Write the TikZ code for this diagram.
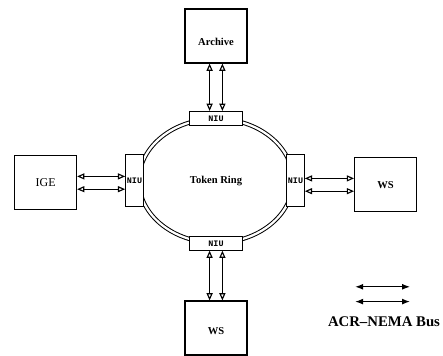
\documentclass[tikz,border=0pt]{standalone}
\usepackage{fontspec}
\setmainfont{Liberation Serif}
\newfontfamily\niufont{Liberation Mono}
\usetikzlibrary{arrows.meta,positioning,shapes.geometric}
\tikzset{
  stationnode/.style={rectangle,draw,thick,minimum width=1.55cm,minimum height=1.35cm,inner sep=1pt},
  niuh/.style={rectangle,draw,thick,fill=white,minimum width=1.32cm,minimum height=0.34cm,inner sep=0pt,
    font=\niufont\bfseries\fontsize{6}{7}\selectfont},
  niuv/.style={niuh,minimum width=0.44cm,minimum height=1.3cm},
  ringnode/.style={ellipse,draw,double,double distance=1.6pt,line width=0.7pt,
    minimum width=3.85cm,minimum height=3.1cm,inner sep=0pt},
  busarrow/.style={{Triangle[open,length=1.8mm,width=1.5mm,line width=0.8pt]}-{Triangle[open,length=1.8mm,width=1.5mm,line width=0.8pt]},thick},
  legarrow/.style={{Latex[length=2mm,width=1.5mm]}-{Latex[length=2mm,width=1.5mm]},thick}
}

\begin{document}
\begin{tikzpicture}[font=\bfseries\fontsize{7.5}{8}\selectfont]
  \useasboundingbox (0,0) rectangle (11.075,8.9);
  \node[ringnode] (ring) at (5.4,4.38) {Token Ring};
  \node[niuh] (niut) at (ring.north) {NIU};
  \node[niuh] (niub) at (ring.south) {NIU};
  \node[niuv] (niul) at ([xshift=-0.1cm]ring.west) {NIU};
  \node[niuv] (niur) at ([xshift=0.05cm]ring.east) {NIU};
  \node[stationnode,text height=0.5cm,text depth=0pt] (archive) at (5.4,8.0) {Archive};
  \node[stationnode] (igebox) at (1.14,4.33) {\mdseries\fontsize{8.5}{9}\selectfont IGE};
  \node[stationnode] (wsright) at (9.64,4.28) {WS};
  \node[stationnode,text height=0.35cm,text depth=0pt] (wsbottom) at (5.4,0.7) {WS};
  \foreach \s in {-0.16,0.16}{
    \draw[busarrow] ([xshift=\s cm]archive.south) -- ([xshift=\s cm]niut.north);
    \draw[busarrow] ([xshift=\s cm]wsbottom.north) -- ([xshift=\s cm]niub.south);
    \draw[busarrow] ([yshift=\s cm]igebox.east) -- ([yshift=\s cm]igebox.east -| niul.west);
    \draw[busarrow] ([yshift=\s cm]wsright.west) -- ([yshift=\s cm]wsright.west -| niur.east);
  }
  % legend
  \node[font=\bfseries\fontsize{10.5}{12}\selectfont] (legtext) at (9.6,0.85) {ACR--NEMA Bus};
  \coordinate (la1) at (8.88,1.73);
  \coordinate (lb1) at (10.25,1.73);
  \coordinate (la2) at (8.88,1.36);
  \coordinate (lb2) at (10.25,1.36);
  \draw[legarrow] (la1) -- (lb1);
  \draw[legarrow] (la2) -- (lb2);
\end{tikzpicture}
\end{document}
